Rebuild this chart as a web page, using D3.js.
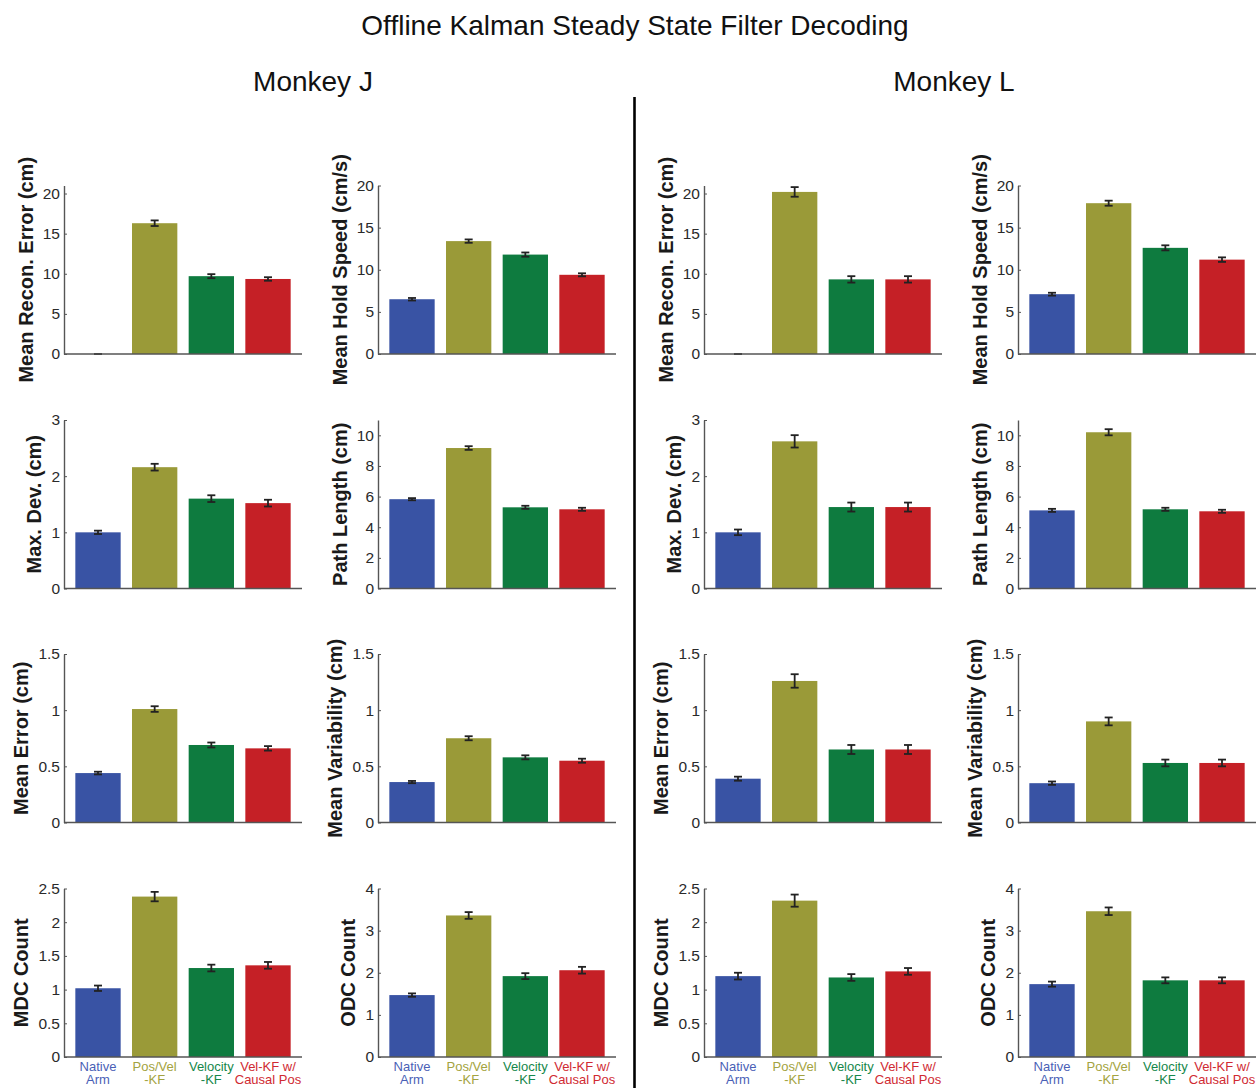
<!DOCTYPE html>
<html>
<head>
<meta charset="utf-8">
<script src="https://cdn.jsdelivr.net/npm/d3@7"></script>
<style>
  html, body { margin: 0; padding: 0; background: #fff; }
  svg { display: block; font-family: "Liberation Sans", Arial, Helvetica, sans-serif; }
</style>
</head>
<body>
<svg id="chart" width="1256" height="1088"></svg>
<script>
// Decoder conditions, in plotting order
const categoryLines = [["Native", "Arm"], ["Pos/Vel", "-KF"], ["Velocity", "-KF"], ["Vel-KF w/", "Causal Pos"]];
const barColors = ["#3953a4", "#9a9a38", "#0e7b3f", "#c52026"];
const labelColors = ["#4a5fb6", "#a3a340", "#15874a", "#d02a32"];

// Metric labels, axis limits and tick values
const yLabels = ["Mean Recon. Error (cm)", "Mean Hold Speed (cm/s)", "Max. Dev. (cm)", "Path Length (cm)",
                 "Mean Error (cm)", "Mean Variability (cm)", "MDC Count", "ODC Count"];
const yMaxes = [21, 20, 3, 11, 1.5, 1.5, 2.5, 4];
const yTicks = [[0, 5, 10, 15, 20], [0, 5, 10, 15, 20], [0, 1, 2, 3], [0, 2, 4, 6, 8, 10],
                [0, 0.5, 1, 1.5], [0, 0.5, 1, 1.5], [0, 0.5, 1, 1.5, 2, 2.5], [0, 1, 2, 3, 4]];

// Monkey J: means and standard errors
const reconErrorJ = [0, 16.3, 9.7, 9.35];
const reconErrorJErr = [0, 0.35, 0.25, 0.22];
const holdSpeedJ = [6.5, 13.4, 11.8, 9.4];
const holdSpeedJErr = [0.15, 0.2, 0.25, 0.18];
const maxDevJ = [1.0, 2.16, 1.6, 1.52];
const maxDevJErr = [0.03, 0.06, 0.06, 0.06];
const pathLengthJ = [5.83, 9.17, 5.3, 5.17];
const pathLengthJErr = [0.07, 0.12, 0.1, 0.1];
const meanErrorJ = [0.44, 1.01, 0.69, 0.66];
const meanErrorJErr = [0.012, 0.025, 0.022, 0.02];
const meanVarJ = [0.36, 0.75, 0.58, 0.55];
const meanVarJErr = [0.01, 0.018, 0.018, 0.018];
const mdcJ = [1.02, 2.38, 1.32, 1.36];
const mdcJErr = [0.04, 0.07, 0.05, 0.05];
const odcJ = [1.47, 3.36, 1.92, 2.06];
const odcJErr = [0.04, 0.08, 0.07, 0.08];

// Monkey L: means and standard errors
const reconErrorL = [0, 20.2, 9.3, 9.3];
const reconErrorLErr = [0, 0.6, 0.4, 0.4];
const holdSpeedL = [7.1, 17.9, 12.6, 11.2];
const holdSpeedLErr = [0.17, 0.3, 0.3, 0.27];
const maxDevL = [1.0, 2.62, 1.45, 1.45];
const maxDevLErr = [0.05, 0.11, 0.08, 0.08];
const pathLengthL = [5.1, 10.2, 5.17, 5.04];
const pathLengthLErr = [0.1, 0.2, 0.1, 0.1];
const meanErrorL = [0.39, 1.26, 0.65, 0.65];
const meanErrorLErr = [0.018, 0.06, 0.04, 0.04];
const meanVarL = [0.35, 0.9, 0.53, 0.53];
const meanVarLErr = [0.015, 0.035, 0.03, 0.03];
const mdcL = [1.2, 2.32, 1.18, 1.27];
const mdcLErr = [0.05, 0.09, 0.05, 0.05];
const odcL = [1.73, 3.46, 1.82, 1.82];
const odcLErr = [0.06, 0.09, 0.07, 0.07];

// Panel grid: metric index and data for each (row, column)
const panels = [
  {row: 0, col: 0, m: 0, v: reconErrorJ, e: reconErrorJErr},
  {row: 0, col: 1, m: 1, v: holdSpeedJ, e: holdSpeedJErr},
  {row: 0, col: 2, m: 0, v: reconErrorL, e: reconErrorLErr},
  {row: 0, col: 3, m: 1, v: holdSpeedL, e: holdSpeedLErr},
  {row: 1, col: 0, m: 2, v: maxDevJ, e: maxDevJErr},
  {row: 1, col: 1, m: 3, v: pathLengthJ, e: pathLengthJErr},
  {row: 1, col: 2, m: 2, v: maxDevL, e: maxDevLErr},
  {row: 1, col: 3, m: 3, v: pathLengthL, e: pathLengthLErr},
  {row: 2, col: 0, m: 4, v: meanErrorJ, e: meanErrorJErr},
  {row: 2, col: 1, m: 5, v: meanVarJ, e: meanVarJErr},
  {row: 2, col: 2, m: 4, v: meanErrorL, e: meanErrorLErr},
  {row: 2, col: 3, m: 5, v: meanVarL, e: meanVarLErr},
  {row: 3, col: 0, m: 6, v: mdcJ, e: mdcJErr},
  {row: 3, col: 1, m: 7, v: odcJ, e: odcJErr},
  {row: 3, col: 2, m: 6, v: mdcL, e: mdcLErr},
  {row: 3, col: 3, m: 7, v: odcL, e: odcLErr}
];

const svg = d3.select("#chart");
const colX = [64, 378, 704, 1018];
const rowTop = [185.5, 420, 654, 888.5];
const plotW = 238, plotH = 168.5;

// Titles
svg.append("text").attr("x", 635).attr("y", 35).attr("text-anchor", "middle")
  .attr("font-size", 28).attr("fill", "#111").text("Offline Kalman Steady State Filter Decoding");
svg.append("text").attr("x", 313).attr("y", 91).attr("text-anchor", "middle")
  .attr("font-size", 28).attr("fill", "#111").text("Monkey J");
svg.append("text").attr("x", 954).attr("y", 91).attr("text-anchor", "middle")
  .attr("font-size", 28).attr("fill", "#111").text("Monkey L");

// Divider between the two monkeys
svg.append("line").attr("x1", 634.5).attr("x2", 634.5).attr("y1", 97).attr("y2", 1088)
  .attr("stroke", "#000").attr("stroke-width", 2.6);

const x = d3.scaleLinear().domain([0.4, 4.6]).range([0, plotW]);
const barHalf = 0.4;

panels.forEach(p => {
  const g = svg.append("g").attr("transform", `translate(${colX[p.col]},${rowTop[p.row]})`);
  const y = d3.scaleLinear().domain([0, yMaxes[p.m]]).range([plotH, 0]);

  // Bars
  g.selectAll("rect.bar").data(p.v).join("rect").attr("class", "bar")
    .attr("x", (d, i) => x(i + 1 - barHalf))
    .attr("width", (d, i) => x(i + 1 + barHalf) - x(i + 1 - barHalf))
    .attr("y", d => y(d))
    .attr("height", d => y(0) - y(d))
    .attr("fill", (d, i) => barColors[i]);

  // Error bars
  const eb = g.selectAll("g.err").data(p.v.map((d, i) => ({m: d, e: p.e[i], i}))).join("g").attr("class", "err");
  eb.append("line")
    .attr("x1", d => x(d.i + 1)).attr("x2", d => x(d.i + 1))
    .attr("y1", d => y(d.m - d.e)).attr("y2", d => y(d.m + d.e))
    .attr("stroke", "#222").attr("stroke-width", 1.8);
  [-1, 1].forEach(s => {
    eb.append("line")
      .attr("x1", d => x(d.i + 1) - 4).attr("x2", d => x(d.i + 1) + 4)
      .attr("y1", d => y(d.m + s * d.e)).attr("y2", d => y(d.m + s * d.e))
      .attr("stroke", "#222").attr("stroke-width", 1.8);
  });

  // X axis baseline
  g.append("line").attr("x1", 0).attr("x2", plotW).attr("y1", plotH).attr("y2", plotH)
    .attr("stroke", "#555").attr("stroke-width", 1.4);

  // Y axis with inward ticks
  const ax = g.append("g").call(
    d3.axisLeft(y).tickValues(yTicks[p.m]).tickSizeInner(-3).tickSizeOuter(0).tickPadding(4).tickFormat(d => String(d))
  );
  ax.select(".domain").attr("stroke", "#555").attr("stroke-width", 1.4);
  ax.selectAll(".tick line").attr("stroke", "#555");
  ax.selectAll(".tick text").attr("font-size", 15.5).attr("fill", "#2a2a2a")
    .attr("font-family", "'Liberation Sans', Arial, Helvetica, sans-serif");

  let maxW = 0;
  ax.selectAll(".tick text").each(function () { maxW = Math.max(maxW, this.getComputedTextLength()); });

  // Y axis title, centred on the plot
  const lx = -4 - maxW - 10;
  g.append("text")
    .attr("transform", `translate(${lx},${plotH / 2}) rotate(-90)`)
    .attr("text-anchor", "middle").attr("font-size", 20).attr("font-weight", "bold").attr("fill", "#1a1a1a")
    .text(yLabels[p.m]);

  // Category labels under the bottom row
  if (p.row === 3) {
    categoryLines.forEach((lines, i) => {
      const t = g.append("text").attr("text-anchor", "middle").attr("font-size", 13).attr("fill", labelColors[i]);
      lines.forEach((ln, k) => {
        t.append("tspan").attr("x", x(i + 1)).attr("y", plotH + 13.5 + k * 13.5).text(ln);
      });
    });
  }
});
</script>
</body>
</html>
